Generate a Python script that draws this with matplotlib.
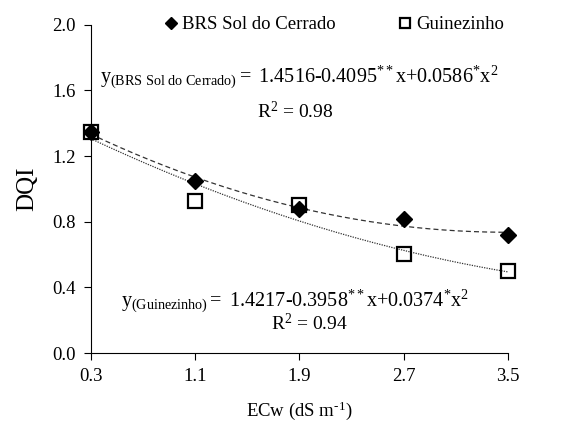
import numpy as np
import matplotlib.pyplot as plt

plt.rcParams['font.family'] = 'Liberation Serif'
plt.rcParams['mathtext.fontset'] = 'custom'
plt.rcParams['mathtext.rm'] = 'Liberation Serif'
plt.rcParams['mathtext.it'] = 'Liberation Serif'

# dados
ecw = [0.3, 1.1, 1.9, 2.7, 3.5]
brs = [1.35, 1.05, 0.875, 0.82, 0.72]
guin = [1.35, 0.925, 0.905, 0.605, 0.50]
coef_brs = [1.4516, -0.4095, 0.0586]
coef_guin = [1.4217, -0.3958, 0.0374]
yticks = [0.0, 0.4, 0.8, 1.2, 1.6, 2.0]

fig = plt.figure(figsize=(5.82, 4.28), dpi=100)
ax = fig.add_axes([0.156, 0.175, 0.717, 0.767])

x = np.linspace(ecw[0], ecw[-1], 200)
y1 = coef_brs[0] + coef_brs[1]*x + coef_brs[2]*x**2
y2 = coef_guin[0] + coef_guin[1]*x + coef_guin[2]*x**2
ax.plot(x, y1, color='#333333', lw=0.9, ls=(0, (4, 2.5)))
ax.plot(x, y2, color='#333333', lw=0.9, ls=(0, (1, 1)))

ax.plot(ecw, brs, 'D', color='black', ms=8, label='BRS Sol do Cerrado', clip_on=False)
ax.plot(ecw, guin, 's', mfc='none', mec='black', mew=1.6, ms=10, label='Guinezinho', clip_on=False)

ax.set_xlim(0.3, 3.5)
ax.set_ylim(0, 2.0)
ax.set_xticks(ecw)
ax.set_xticklabels([f'{v:.1f}' for v in ecw])
ax.set_yticks(yticks)
ax.set_yticklabels([f'{v:.1f}' for v in yticks])
ax.tick_params(labelsize=13.5, length=5, width=0.8, pad=6)
ax.spines['top'].set_visible(False)
ax.spines['right'].set_visible(False)
ax.spines['left'].set_linewidth(0.8)
ax.spines['bottom'].set_linewidth(0.8)

ax.set_ylabel('DQI', fontsize=18, labelpad=10)
ax.set_xlabel(r'ECw (dS m$^{\text{-}\mathregular{1}}$)', fontsize=13.5, labelpad=10)

ax.text(0.37, 1.68, r'$\mathregular{y_{(BRS\ Sol\ do\ Cerrado)}=\ 1.4516\text{-}0.4095^{**}x\text{+}0.0586^{*}x^{2}}$',
        fontsize=14.5, va='center', ha='left')
ax.text(1.87, 1.47, r'R$^{\mathregular{2}}$ = 0.98', fontsize=14, va='center', ha='center')
ax.text(0.53, 0.315, r'$\mathregular{y_{(Guinezinho)}=\ 1.4217\text{-}0.3958^{**}x\text{+}0.0374^{*}x^{2}}$',
        fontsize=14.5, va='center', ha='left')
ax.text(1.98, 0.18, r'R$^{\mathregular{2}}$ = 0.94', fontsize=14, va='center', ha='center')

ax.legend(loc='center', bbox_to_anchor=(0.58, 1.0), ncol=2, frameon=False,
          fontsize=13.5, handletextpad=0.1, columnspacing=3.2, handlelength=1.0,
          markerscale=0.75)

fig.savefig('out.png', dpi=100)
